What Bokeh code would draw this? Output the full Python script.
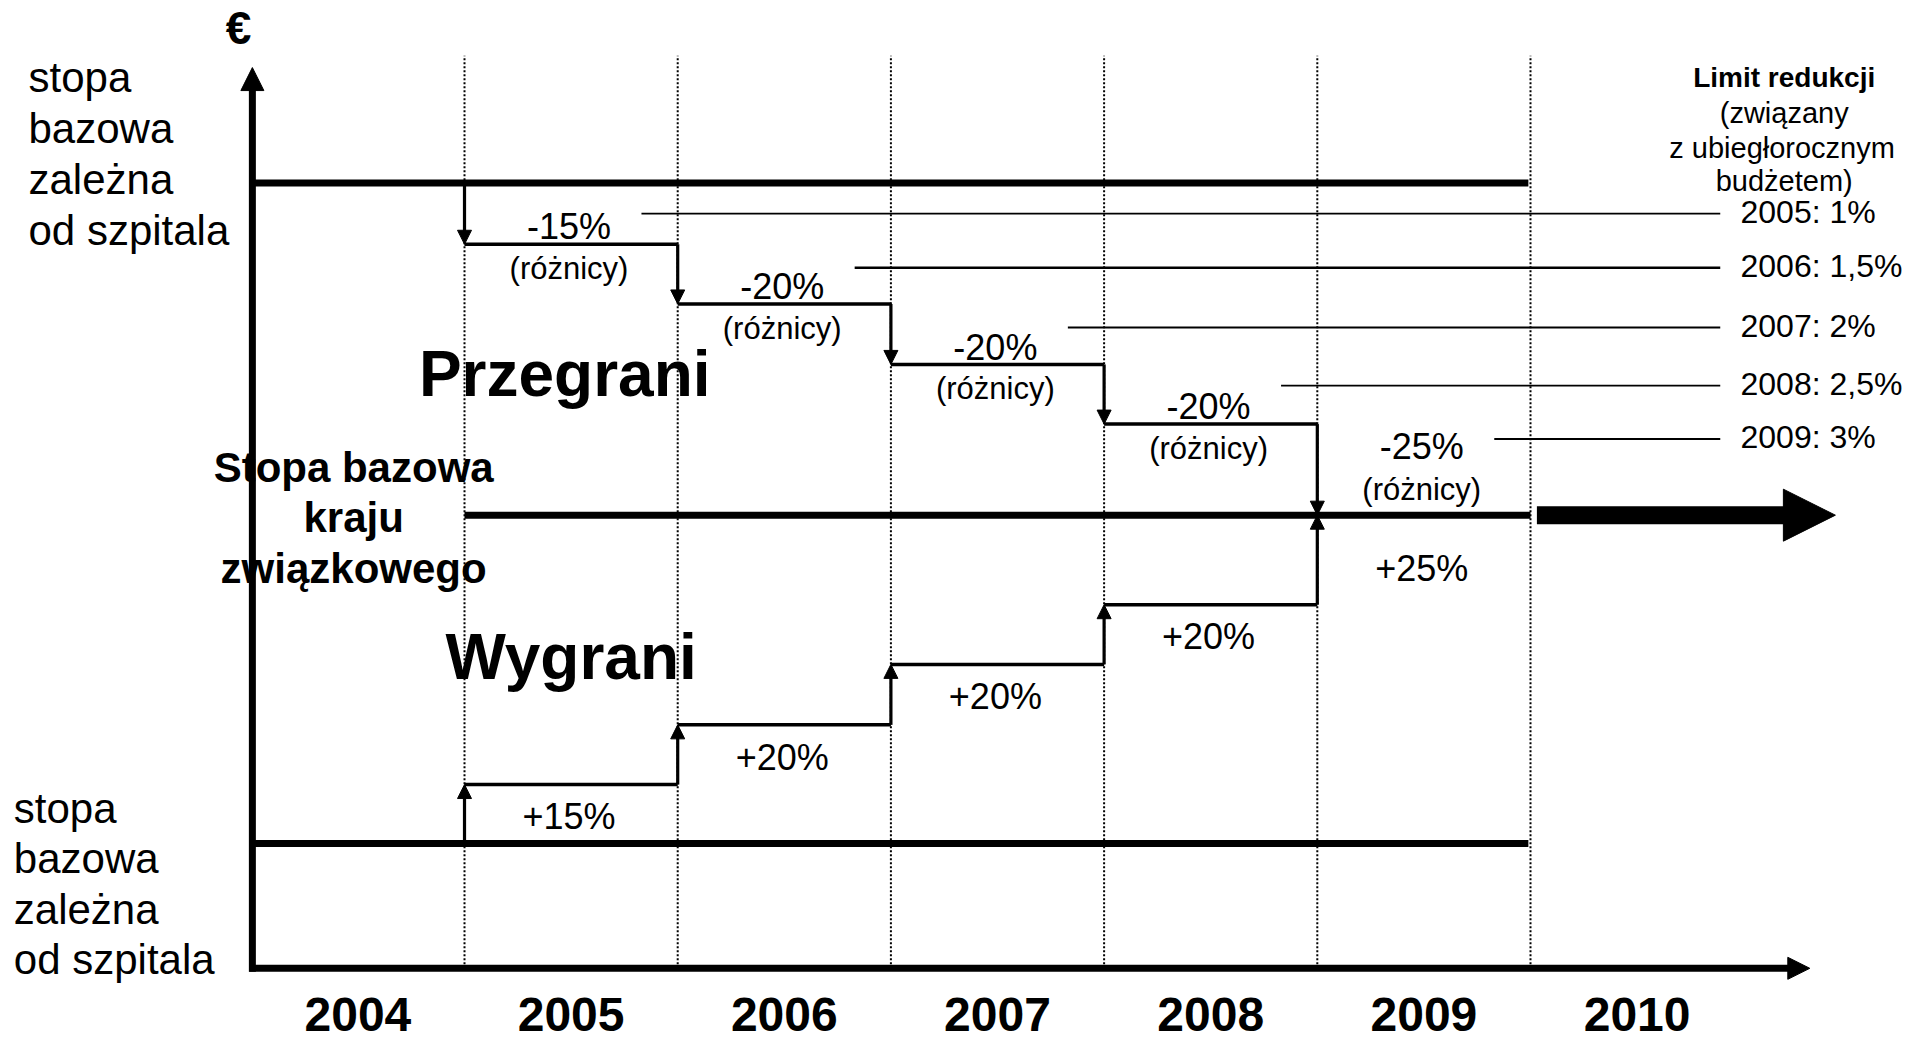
import math
from bokeh.plotting import figure
from bokeh.models import Range1d, Arrow, NormalHead
from bokeh.embed import file_html
from bokeh.resources import INLINE
from bokeh.core.properties import value

# ---------------- data ----------------
years = [2004, 2005, 2006, 2007, 2008, 2009, 2010]
year_labels = ["2004", "2005", "2006", "2007", "2008", "2009", "2010"]
step_years = [2005, 2006, 2007, 2008, 2009]
loser_pct = ["-15%", "-20%", "-20%", "-20%", "-25%"]
winner_pct = ["+15%", "+20%", "+20%", "+20%", "+25%"]
hospital_high = 100.0
federal_rate = 57.7
hospital_low = 15.9
loser_levels = [100.0, 92.2, 84.6, 76.9, 69.3, 57.7]
winner_levels = [15.9, 23.4, 31.0, 38.7, 46.3, 57.7]
limit_years = [2005, 2006, 2007, 2008, 2009]
limit_values = ["1%", "1,5%", "2%", "2,5%", "3%"]

# ---------------- layout ----------------
FONT = "Liberation Sans"
W, H = 1905, 1043
PX_X = 213.2   # pixels per year
PX_Y = 7.853   # pixels per level unit
X_AXIS_X0 = 2003.505
X_AXIS_X1 = 2010.81
Y_AXIS_TOP = 114.7
DOT_TOP = 116.2
LINE_END = 2009.49

p = figure(width=W, height=H, output_backend="svg", toolbar_location=None,
           x_range=Range1d(2002.3236, 2011.2589), y_range=Range1d(-9.576, 123.24),
           x_axis_location=None, y_axis_location=None, min_border=0)
p.outline_line_color = None
p.grid.visible = False
p.background_fill_color = "white"
p.border_fill_color = "white"


def seg(x0, y0, x1, y1, lw, dash="solid"):
    p.segment(x0=[x0], y0=[y0], x1=[x1], y1=[y1], line_width=lw,
              line_color="black", line_dash=dash)


def arrow(x0, y0, x1, y1, lw, head):
    dxp = (x1 - x0) * PX_X
    dyp = (y1 - y0) * PX_Y
    L = math.hypot(dxp, dyp)
    ux, uy = dxp / L, dyp / L
    bx = x1 - ux * head * 0.85 / PX_X
    by = y1 - uy * head * 0.85 / PX_Y
    seg(x0, y0, bx, by, lw)
    hx = x1 - ux * head * 1.0 / PX_X
    hy = y1 - uy * head * 1.0 / PX_Y
    p.add_layout(Arrow(end=NormalHead(size=head, fill_color="black", line_color="black", line_width=1),
                       x_start=hx, y_start=hy, x_end=x1, y_end=y1, line_alpha=0))


def txt(xs, ys, texts, size, bold=False, align="center", baseline="middle"):
    p.text(x=xs, y=ys, text=texts, text_font=value(FONT), text_font_size=f"{size}px",
           text_font_style="bold" if bold else "normal", text_align=align,
           text_baseline=baseline, text_color="black")


# dotted year boundaries
for yr in years[:-1]:
    seg(yr + 0.5, 0, yr + 0.5, DOT_TOP, 2, "2 2")

# axes
arrow(X_AXIS_X0, -0.45, X_AXIS_X0, Y_AXIS_TOP, 7, 23)
arrow(X_AXIS_X0 - 0.015, 0, X_AXIS_X1, 0, 7, 22)

# thick reference lines
seg(X_AXIS_X0, hospital_high, LINE_END, hospital_high, 7)
seg(X_AXIS_X0, hospital_low, LINE_END, hospital_low, 7)
seg(years[0] + 0.5, federal_rate, years[-1] - 0.5, federal_rate, 7)
arrow(years[-1] - 0.47, federal_rate, years[-1] + 0.93, federal_rate, 18, 52)

# steps
for i, yr in enumerate(step_years):
    xb = yr - 0.5
    arrow(xb, loser_levels[i], xb, loser_levels[i + 1], 3.2, 14)
    arrow(xb, winner_levels[i], xb, winner_levels[i + 1], 3.2, 14)
    if i < len(step_years) - 1:
        seg(xb, loser_levels[i + 1], xb + 1, loser_levels[i + 1], 3.5)
        seg(xb, winner_levels[i + 1], xb + 1, winner_levels[i + 1], 3.5)
        txt([yr - 0.01], [loser_levels[i + 1] + 2.2], [loser_pct[i]], 36)
        txt([yr - 0.01], [loser_levels[i + 1] - 3.1], ["(różnicy)"], 31)
        txt([yr - 0.01], [winner_levels[i + 1] - 4.1], [winner_pct[i]], 36)
    else:
        txt([yr - 0.01], [loser_levels[i] - 2.8], [loser_pct[i]], 36)
        txt([yr - 0.01], [loser_levels[i] - 8.3], ["(różnicy)"], 31)
        txt([yr - 0.01], [federal_rate - 6.8], [winner_pct[i]], 36)

# limit lines and labels
row_y = [96.1, 89.2, 81.6, 74.2, 67.4]
for i, ly in enumerate(limit_years):
    seg(ly + 0.33, row_y[i], 2010.39, row_y[i], 2.5 if i == 1 else 1.8)
txt([2010.485] * 5, [r + 0.2 for r in row_y],
    [f"{y}: {v}" for y, v in zip(limit_years, limit_values)], 32, align="left")
txt([2010.69], [113.4], ["Limit redukcji"], 28, bold=True)
txt([2010.69, 2010.68, 2010.69], [108.9, 104.5, 100.2],
    ["(związany", "z ubiegłorocznym", "budżetem)"], 29)

# left labels
left_lines = ["stopa", "bazowa", "zależna", "od szpitala"]
txt([2002.455] * 4, [113.4, 106.9, 100.5, 94.0], left_lines, 42, align="left")
txt([2002.386] * 4, [20.4, 14.0, 7.5, 1.1], left_lines, 42, align="left")
txt([2003.44], [119.8], ["€"], 46, bold=True)

# center labels
txt([2003.98] * 3, [63.8, 57.4, 50.9], ["Stopa bazowa", "kraju", "związkowego"], 42, bold=True)
txt([2004.97], [75.7], ["Przegrani"], 64, bold=True)
txt([2005.0], [39.6], ["Wygrani"], 64, bold=True)

# years
txt(years, [-5.9] * len(years), year_labels, 48, bold=True)

open("out.html", "w").write(file_html(p, INLINE))
